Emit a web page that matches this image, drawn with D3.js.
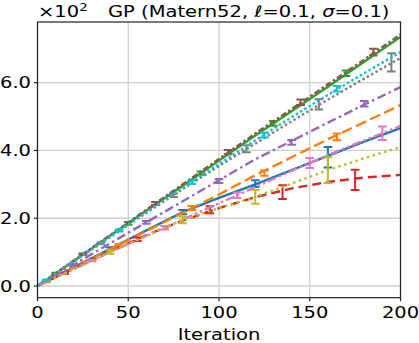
<!DOCTYPE html>
<html><head><meta charset="utf-8">
<script src="https://cdn.jsdelivr.net/npm/d3@7"></script>
<style>body{margin:0;background:#fff}svg{display:block}text{font-family:"DejaVu Sans",sans-serif;fill:#000}</style>
</head><body><svg id="c" width="419" height="343"></svg>
<script>
// iterations at which line values are read
const iters = [0, 20, 40, 60, 80, 100, 120, 140, 160, 180, 200];
// series values (×10²)
const blue   = [0, 0.55, 1.1, 1.64, 2.18, 2.6, 3.0, 3.42, 3.84, 4.26, 4.66];
const orange = [0, 0.54, 1.08, 1.62, 2.16, 2.7, 3.27, 3.8, 4.33, 4.83, 5.34];
const green  = [0, 0.74, 1.48, 2.22, 2.96, 3.7, 4.44, 5.16, 5.88, 6.62, 7.35];
const red    = [0, 0.52, 1.02, 1.5, 1.93, 2.3, 2.62, 2.88, 3.07, 3.2, 3.28];
const purple = [0, 0.63, 1.26, 1.88, 2.5, 3.12, 3.74, 4.28, 4.82, 5.35, 5.87];
const brown  = [0, 0.75, 1.5, 2.25, 3.0, 3.75, 4.5, 5.22, 5.95, 6.68, 7.42];
const pink   = [0, 0.5, 1.0, 1.48, 1.96, 2.44, 2.92, 3.4, 3.86, 4.3, 4.72];
const gray   = [0, 0.72, 1.44, 2.16, 2.86, 3.54, 4.2, 4.86, 5.5, 6.12, 6.73];
const olive  = [0, 0.5, 1.0, 1.48, 1.95, 2.3, 2.63, 3.02, 3.42, 3.77, 4.1];
const cyan   = [0, 0.73, 1.46, 2.18, 2.9, 3.6, 4.3, 4.98, 5.64, 6.28, 6.9];
// error bars: positions, centres, half-lengths
const blueErrX   = [40, 80, 120, 160],        blueErrY   = [1.1, 2.18, 3.02, 3.8],        blueErrE   = [0.04, 0.06, 0.1, 0.3];
const orangeErrX = [5, 45, 85, 125, 165],     orangeErrY = [0.13, 1.2, 2.3, 3.33, 4.4],   orangeErrE = [0.02, 0.04, 0.06, 0.08, 0.1];
const greenErrX  = [10, 50, 90, 130, 170],    greenErrY  = [0.37, 1.85, 3.33, 4.8, 6.28], greenErrE  = [0.02, 0.04, 0.05, 0.07, 0.08];
const redErrX    = [15, 55, 95, 135, 175],    redErrY    = [0.38, 1.38, 2.25, 2.77, 3.13], redErrE   = [0.02, 0.05, 0.1, 0.2, 0.3];
const purpleErrX = [20, 60, 100, 140, 180],   purpleErrY = [0.63, 1.88, 3.1, 4.24, 5.38], purpleErrE = [0.02, 0.04, 0.06, 0.07, 0.08];
const brownErrX  = [25, 65, 105, 145, 185],   brownErrY  = [0.94, 2.44, 3.95, 5.42, 6.9], brownErrE  = [0.02, 0.04, 0.06, 0.08, 0.1];
const pinkErrX   = [30, 70, 110, 150, 190],   pinkErrY   = [0.75, 1.72, 2.68, 3.63, 4.51], pinkErrE  = [0.02, 0.05, 0.08, 0.15, 0.2];
const grayErrX   = [35, 75, 115, 155, 195],   grayErrY   = [1.26, 2.68, 4.05, 5.36, 6.6], grayErrE   = [0.03, 0.05, 0.1, 0.15, 0.27];
const oliveErrX  = [40, 80, 120, 160],        oliveErrY  = [1.0, 1.95, 2.63, 3.42],       oliveErrE  = [0.05, 0.1, 0.2, 0.38];
const cyanErrX   = [5, 45, 85, 125, 165],     cyanErrY   = [0.18, 1.64, 3.06, 4.45, 5.82], cyanErrE  = [0.01, 0.03, 0.05, 0.07, 0.08];

const xTicks = [0, 50, 100, 150, 200];
const yTicks = [0, 2, 4, 6];
const titleParts = [["GP (Matern52, ", false], ["ℓ", true], ["=0.1, ", false], ["σ", true], ["=0.1)", false]];
const xLabel = "Iteration";

const series = [
  {v: blue,   ex: blueErrX,   ey: blueErrY,   ee: blueErrE,   c: "#1f77b4", d: null},
  {v: orange, ex: orangeErrX, ey: orangeErrY, ee: orangeErrE, c: "#ff7f0e", d: "11,4.5"},
  {v: green,  ex: greenErrX,  ey: greenErrY,  ee: greenErrE,  c: "#2ca02c", d: null},
  {v: red,    ex: redErrX,    ey: redErrY,    ee: redErrE,    c: "#d62728", d: "9,5"},
  {v: purple, ex: purpleErrX, ey: purpleErrY, ee: purpleErrE, c: "#9467bd", d: "9,3.5,2.5,3.5"},
  {v: brown,  ex: brownErrX,  ey: brownErrY,  ee: brownErrE,  c: "#8c564b", d: "6,2.5,2.5,2.5"},
  {v: pink,   ex: pinkErrX,   ey: pinkErrY,   ee: pinkErrE,   c: "#e377c2", d: "9,3,2.5,3,2.5,3"},
  {v: gray,   ex: grayErrX,   ey: grayErrY,   ee: grayErrE,   c: "#7f7f7f", d: "2.5,2.5"},
  {v: olive,  ex: oliveErrX,  ey: oliveErrY,  ee: oliveErrE,  c: "#bcbd22", d: "2.5,3.5"},
  {v: cyan,   ex: cyanErrX,   ey: cyanErrY,   ee: cyanErrE,   c: "#17becf", d: "2.5,2.5"}
];

const svg = d3.select("#c");
const L = 37.5, R = 400.5, T = 22, B = 297.7;
const x = d3.scaleLinear().domain([0, 200]).range([L, R]);
const y = d3.scaleLinear().domain([-0.345, 7.79]).range([B, T]);
const SX = 1.22, FS = 16;

function txt(px, py, s, anchor) {
  return svg.append("text").attr("transform", `translate(${px},${py}) scale(${SX},1)`)
    .attr("text-anchor", anchor).style("font-size", FS + "px").text(s);
}

// grid
const g = svg.append("g");
g.selectAll(".gx").data(xTicks).join("line").attr("x1", d => x(d)).attr("x2", d => x(d))
  .attr("y1", T).attr("y2", B).attr("stroke", "#cfcfcf").attr("stroke-width", 1.3);
g.selectAll(".gy").data(yTicks).join("line").attr("y1", d => y(d)).attr("y2", d => y(d))
  .attr("x1", L).attr("x2", R).attr("stroke", "#cfcfcf").attr("stroke-width", 1.3);

// clip
svg.append("clipPath").attr("id", "clip").append("rect").attr("x", L).attr("y", T).attr("width", R - L).attr("height", B - T);
const plot = svg.append("g").attr("clip-path", "url(#clip)");
const line = d3.line().x((d, i) => x(iters[i])).y(d => y(d));

series.forEach(s => {
  plot.append("path").attr("d", line(s.v)).attr("fill", "none").attr("stroke", s.c)
    .attr("stroke-width", 2.4).attr("stroke-dasharray", s.d);
  const eb = plot.append("g").attr("stroke", s.c).attr("stroke-width", 2).attr("fill", "none");
  s.ex.forEach((xv, i) => {
    const cx = x(xv), y1 = y(s.ey[i] - s.ee[i]), y2 = y(s.ey[i] + s.ee[i]);
    eb.append("line").attr("x1", cx).attr("x2", cx).attr("y1", y1).attr("y2", y2);
    eb.append("line").attr("x1", cx - 4.3).attr("x2", cx + 4.3).attr("y1", y1).attr("y2", y1);
    eb.append("line").attr("x1", cx - 4.3).attr("x2", cx + 4.3).attr("y1", y2).attr("y2", y2);
  });
});

// frame
svg.append("rect").attr("x", L).attr("y", T).attr("width", R - L).attr("height", B - T)
  .attr("fill", "none").attr("stroke", "#222").attr("stroke-width", 1.2);

// ticks
svg.selectAll(".tx").data(xTicks).join("line").attr("x1", d => x(d)).attr("x2", d => x(d))
  .attr("y1", B).attr("y2", B + 3.5).attr("stroke", "#222").attr("stroke-width", 1.2);
svg.selectAll(".ty").data(yTicks).join("line").attr("y1", d => y(d)).attr("y2", d => y(d))
  .attr("x1", L - 3.5).attr("x2", L).attr("stroke", "#222").attr("stroke-width", 1.2);
xTicks.forEach(t => txt(x(t), 318, String(t), "middle"));
yTicks.forEach(t => txt(31, y(t) + 5.8, t.toFixed(1), "end"));

// x label
txt((L + R) / 2, 339.5, xLabel, "middle");

// offset text
const off = svg.append("text").attr("transform", `translate(38,16.5) scale(${SX},1)`).style("font-size", FS + "px");
off.append("tspan").text("×10");
off.append("tspan").attr("dy", -6).style("font-size", "11px").text("2");

// title
const tt = svg.append("text").attr("transform", `translate(108,16.5) scale(${SX},1)`).style("font-size", FS + "px");
titleParts.forEach(p => tt.append("tspan").style("font-style", p[1] ? "italic" : "normal").text(p[0]));
</script></body></html>
